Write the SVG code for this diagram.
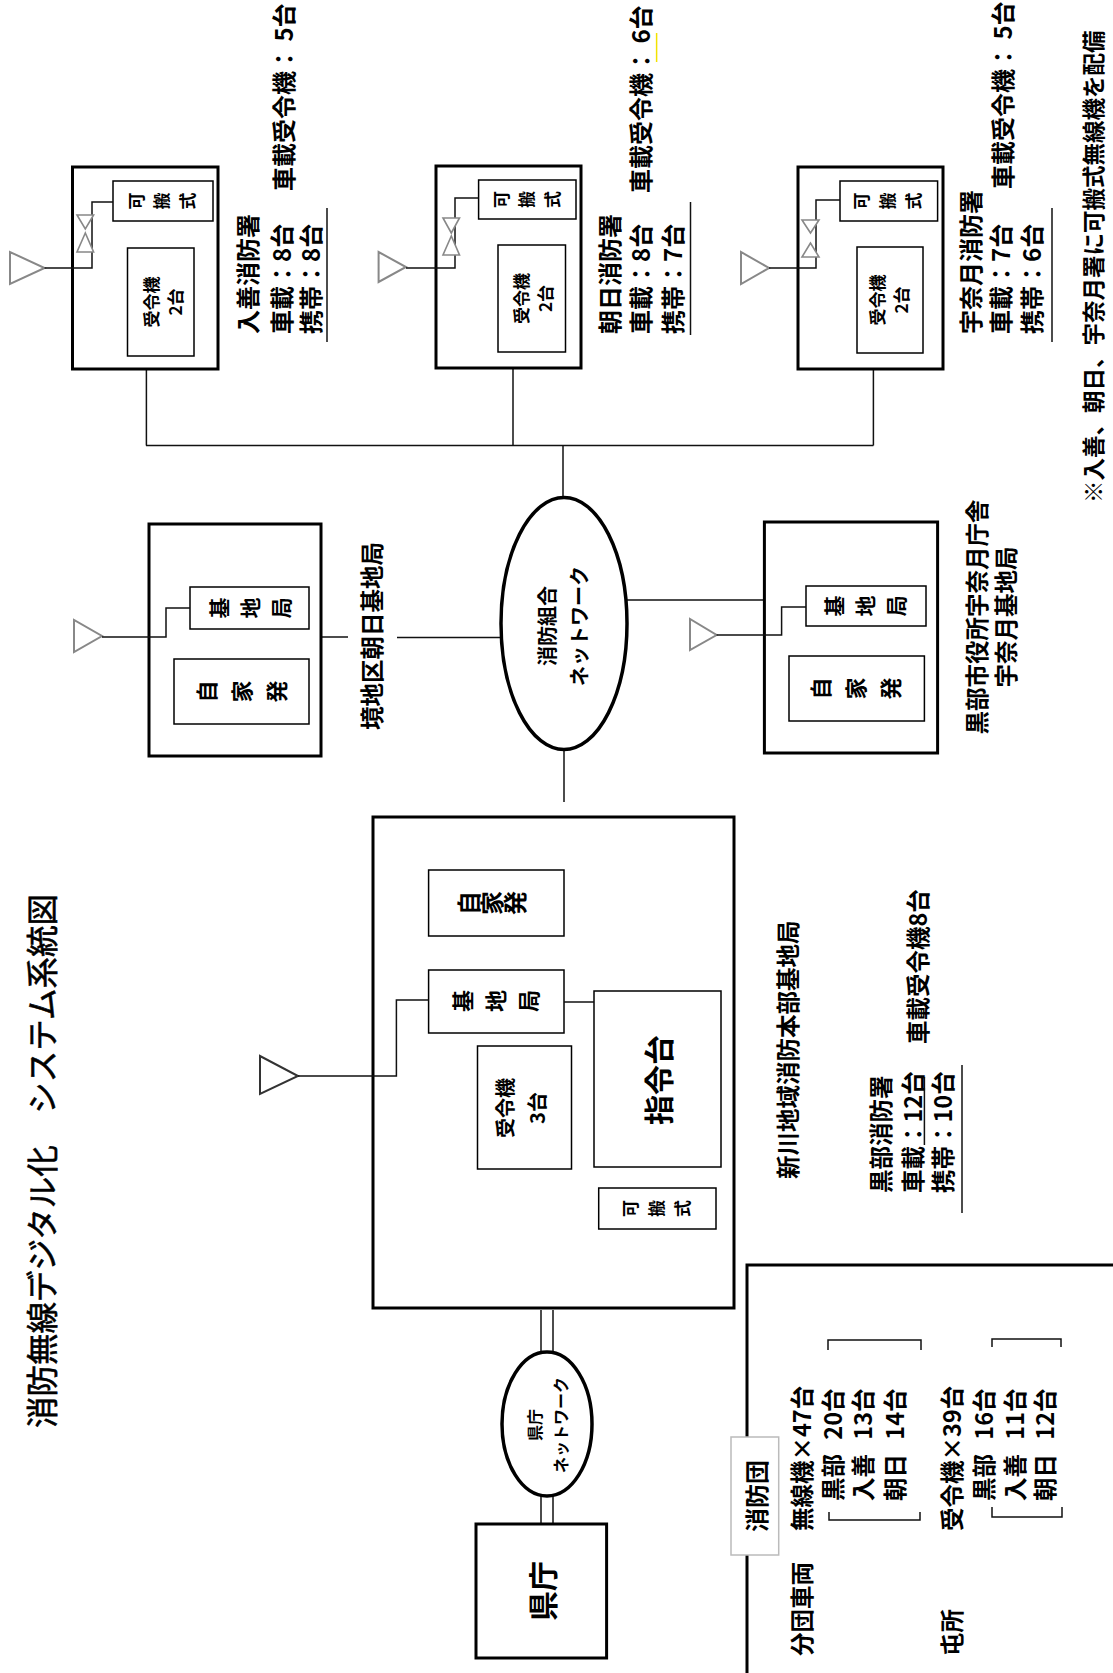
<svg xmlns="http://www.w3.org/2000/svg" width="1113" height="1673" viewBox="0 0 1113 1673">
<style>
.t{font-family:'Noto Sans CJK JP','Noto Sans CJK SC',sans-serif;font-weight:bold;fill:#000}
.c{dominant-baseline:central}
.m{text-anchor:middle}
.v{writing-mode:vertical-rl;text-anchor:middle}
.box{fill:#fff;stroke:#000;stroke-width:3}
.ib{fill:#fff;stroke:#000;stroke-width:1.5}
.ln{stroke:#111;stroke-width:1.5;fill:none}
.ant{fill:#fff;stroke:#888;stroke-width:2}
.sm{fill:#fff;stroke:#888;stroke-width:1.6}
.el{fill:#fff;stroke:#000;stroke-width:3.5}
</style>
<rect width="1113" height="1673" fill="#fff"/>

<g id="connectors">
<line class="ln" x1="146" y1="445.5" x2="873.4" y2="445.5"/>
<line class="ln" x1="146.4" y1="369" x2="146.4" y2="445.5"/>
<line class="ln" x1="513" y1="368" x2="513" y2="445.5"/>
<line class="ln" x1="873.4" y1="369" x2="873.4" y2="445.5"/>
<line class="ln" x1="563" y1="445.5" x2="563" y2="498"/>
<line class="ln" x1="321" y1="637" x2="348" y2="637"/>
<line class="ln" x1="397" y1="637.5" x2="502" y2="637.5"/>
<line class="ln" x1="626" y1="600" x2="764.4" y2="600"/>
<line class="ln" x1="564" y1="749" x2="564" y2="802"/>
<line class="ln" x1="541" y1="1310" x2="541" y2="1353"/>
<line class="ln" x1="553" y1="1310" x2="553" y2="1353"/>
<line class="ln" x1="541" y1="1495" x2="541" y2="1524"/>
<line class="ln" x1="553" y1="1495" x2="553" y2="1524"/>
</g>

<g id="title">
<text class="t c" font-size="31.5" style="font-weight:normal" stroke="#000" stroke-width="0.6" transform="translate(40,1428) rotate(-90)">消防無線デジタル化　システム系統図</text>
</g>

<g id="node-nyuzen">
<rect class="box" x="72.5" y="167" width="145.5" height="202"/>
<rect class="ib" x="113" y="181" width="100" height="40"/>
<rect class="ib" x="127.5" y="248" width="66.5" height="108"/>
<polygon class="ant" points="10,252 10,284 44.6,268"/>
<polyline class="ln" points="44.6,268 92,268 92,202 113,202"/>
<polygon class="sm" points="77,215 93.6,215 85.3,229"/>
<polygon class="sm" points="85.3,233 77,252 93.6,252"/>
<text class="t v" font-size="17" transform="translate(162,201) rotate(-90)" x="0" y="-25.7 0 25.7">可搬式</text>
<text class="t c m" font-size="17" transform="translate(162,302) rotate(-90)"><tspan x="0" y="-12">受令機</tspan><tspan x="0" y="12">2台</tspan></text>
<text class="t c" font-size="24" transform="translate(246,334) rotate(-90)">入善消防署</text>
<text class="t c" font-size="24" transform="translate(280,334) rotate(-90)">車載：8台</text>
<text class="t c" font-size="24" transform="translate(309,334) rotate(-90)">携帯：8台</text>
<text class="t c" font-size="24" transform="translate(282,191) rotate(-90)">車載受令機： 5台</text>
<line class="ln" x1="327" y1="208" x2="327" y2="342"/>
</g>

<g id="node-asahi">
<rect class="box" x="436" y="166" width="145" height="202"/>
<rect class="ib" x="478.6" y="180" width="97.4" height="39"/>
<rect class="ib" x="498" y="245" width="67.5" height="107"/>
<polygon class="ant" points="378.6,252 378.6,282 406,267"/>
<polyline class="ln" points="406,268 455,268 455,198 478.6,198"/>
<polygon class="sm" points="443,218 459.5,218 451.3,233"/>
<polygon class="sm" points="451.3,236 443,255 459.5,255"/>
<text class="t v" font-size="17" transform="translate(527,199.5) rotate(-90)" x="0" y="-25.7 0 25.7">可搬式</text>
<text class="t c m" font-size="17" transform="translate(532,298.5) rotate(-90)"><tspan x="0" y="-12">受令機</tspan><tspan x="0" y="12">2台</tspan></text>
<text class="t c" font-size="24" transform="translate(608,334) rotate(-90)">朝日消防署</text>
<text class="t c" font-size="24" transform="translate(639,334) rotate(-90)">車載：8台</text>
<text class="t c" font-size="24" transform="translate(671,334) rotate(-90)">携帯：7台</text>
<text class="t c" font-size="24" transform="translate(639,193) rotate(-90)">車載受令機： 6台</text>
<line class="ln" x1="690.5" y1="202" x2="690.5" y2="335"/>
<line x1="656.6" y1="33" x2="656.6" y2="62" stroke="#f2e200" stroke-width="1.5"/>
</g>

<g id="node-unazuki">
<rect class="box" x="798" y="167" width="145" height="202"/>
<rect class="ib" x="840" y="181" width="97.6" height="40"/>
<rect class="ib" x="857" y="247" width="66" height="106"/>
<polygon class="ant" points="741,252 741,284 769,268"/>
<polyline class="ln" points="769,268 816,268 816,200 840,200"/>
<polygon class="sm" points="802,220 819,220 810.5,233"/>
<polygon class="sm" points="810.5,243 802,257 819,257"/>
<text class="t v" font-size="17" transform="translate(888,201) rotate(-90)" x="0" y="-26 0 26">可搬式</text>
<text class="t c m" font-size="17" transform="translate(888,300) rotate(-90)"><tspan x="0" y="-12">受令機</tspan><tspan x="0" y="12">2台</tspan></text>
<text class="t c" font-size="24" transform="translate(969,334) rotate(-90)">宇奈月消防署</text>
<text class="t c" font-size="24" transform="translate(999.4,334) rotate(-90)">車載：7台</text>
<text class="t c" font-size="24" transform="translate(1030,334) rotate(-90)">携帯：6台</text>
<text class="t c" font-size="24" transform="translate(1001,189) rotate(-90)">車載受令機： 5台</text>
<line class="ln" x1="1052" y1="208" x2="1052" y2="342"/>
</g>

<g id="note">
<text class="t c" font-size="22.5" transform="translate(1092,503) rotate(-90)">※入善、朝日、宇奈月署に可搬式無線機を配備</text>
</g>

<g id="node-sakai">
<rect class="box" x="149" y="524" width="172" height="232"/>
<rect class="ib" x="190" y="587" width="119" height="42"/>
<rect class="ib" x="174" y="659" width="135" height="65"/>
<polygon class="ant" points="74,620 74,652 102,636"/>
<polyline class="ln" points="102,637 166,637 166,608 190,608"/>
<text class="t v" font-size="21" transform="translate(250,608) rotate(-90)" x="0" y="-31 0 31">基地局</text>
<text class="t v" font-size="22" transform="translate(242,691.5) rotate(-90)" x="0" y="-35 0 35">自家発</text>
<text class="t c m" font-size="23.5" transform="translate(371,636) rotate(-90)">境地区朝日基地局</text>
</g>

<g id="node-net">
<ellipse class="el" cx="564" cy="623.5" rx="63" ry="126"/>
<text class="t c m" font-size="20" transform="translate(562,626) rotate(-90)"><tspan x="0" y="-16">消防組合</tspan><tspan x="0" y="16">ネットワーク</tspan></text>
</g>

<g id="node-unazuki-base">
<rect class="box" x="764.4" y="522" width="173.2" height="231"/>
<rect class="ib" x="806" y="586" width="120" height="40"/>
<rect class="ib" x="789" y="656" width="135.4" height="65"/>
<polygon class="ant" points="690,619 690,650 716.6,635"/>
<polyline class="ln" points="716.6,635 781.6,635 781.6,607 806,607"/>
<text class="t v" font-size="21" transform="translate(865,606) rotate(-90)" x="0" y="-31 0 31">基地局</text>
<text class="t v" font-size="22" transform="translate(856,688.5) rotate(-90)" x="0" y="-35 0 35">自家発</text>
<text class="t c m" font-size="23.5" transform="translate(990.5,617) rotate(-90)"><tspan x="0" y="-14.5">黒部市役所宇奈月庁舎</tspan><tspan x="0" y="14.5">宇奈月基地局</tspan></text>
</g>

<g id="node-main">
<rect class="box" x="373" y="817" width="361" height="491"/>
<rect class="ib" x="428.6" y="870" width="135.4" height="66"/>
<rect class="ib" x="428.6" y="970" width="135.4" height="63"/>
<rect class="ib" x="477.5" y="1046" width="94" height="123"/>
<rect class="ib" x="594" y="991" width="127" height="176"/>
<rect class="ib" x="598.7" y="1188" width="117.3" height="41"/>
<line class="ln" x1="564" y1="1002" x2="594" y2="1002"/>
<polygon points="260,1056 260,1094 298,1076" fill="#fff" stroke="#333" stroke-width="2"/>
<polyline class="ln" points="298,1076 396.4,1076 396.4,1000 428.6,1000"/>
<text class="t v" font-size="24" transform="translate(492,903) rotate(-90)" x="0" y="-23 0 23">自家発</text>
<text class="t v" font-size="22" transform="translate(496,1001) rotate(-90)" x="0" y="-33 0 33">基地局</text>
<text class="t c m" font-size="20" transform="translate(520,1108) rotate(-90)"><tspan x="0" y="-16">受令機</tspan><tspan x="0" y="16">3台</tspan></text>
<text class="t c m" font-size="30" transform="translate(657,1080) rotate(-90)">指令台</text>
<text class="t v" font-size="17" transform="translate(657,1208.5) rotate(-90)" x="0" y="-26 0 26">可搬式</text>
<text class="t c" font-size="23.5" transform="translate(787,1179) rotate(-90)">新川地域消防本部基地局</text>
<text class="t c" font-size="23.5" transform="translate(880,1193) rotate(-90)">黒部消防署</text>
<text class="t c" font-size="23.5" transform="translate(912,1193) rotate(-90)">車載：12台</text>
<text class="t c" font-size="23.5" transform="translate(942,1193) rotate(-90)">携帯：10台</text>
<text class="t c" font-size="23.5" transform="translate(917,1044) rotate(-90)">車載受令機8台</text>
<line class="ln" x1="924.4" y1="1077" x2="924.4" y2="1145"/>
<line class="ln" x1="962" y1="1065" x2="962" y2="1213"/>
</g>

<g id="node-kencho-net">
<ellipse class="el" cx="547" cy="1424" rx="45" ry="72"/>
<text class="t c m" font-size="16" transform="translate(547,1425) rotate(-90)"><tspan x="0" y="-13">県庁</tspan><tspan x="0" y="13">ネットワーク</tspan></text>
</g>

<g id="node-kencho">
<rect class="box" x="476" y="1524" width="130.6" height="134"/>
<text class="t c m" font-size="30" transform="translate(541,1591) rotate(-90)">県庁</text>
</g>

<g id="legend">
<rect class="box" x="747" y="1265" width="400" height="450"/>
<rect x="731" y="1437" width="47.7" height="118" fill="#fff" stroke="#bbb" stroke-width="1.5"/>
<text class="t c m" font-size="24" transform="translate(755,1496) rotate(-90)">消防団</text>
<text class="t c" font-size="23.5" transform="translate(801,1656) rotate(-90)">分団車両</text>
<text class="t c" font-size="23.5" transform="translate(801,1531) rotate(-90)">無線機×47台</text>
<text class="t c" font-size="23.5" word-spacing="9" transform="translate(832,1501) rotate(-90)">黒部 20台</text>
<text class="t c" font-size="23.5" word-spacing="9" transform="translate(862,1501) rotate(-90)">入善 13台</text>
<text class="t c" font-size="23.5" word-spacing="9" transform="translate(894,1501) rotate(-90)">朝日 14台</text>
<polyline class="ln" points="828,1350 828,1340 921,1340 921,1350"/>
<polyline class="ln" points="829,1512 829,1520 920,1520 920,1512"/>
<text class="t c" font-size="23.5" transform="translate(951,1656) rotate(-90)">屯所</text>
<text class="t c" font-size="23.5" transform="translate(951,1531) rotate(-90)">受令機×39台</text>
<text class="t c" font-size="23.5" word-spacing="9" transform="translate(983,1501) rotate(-90)">黒部 16台</text>
<text class="t c" font-size="23.5" word-spacing="9" transform="translate(1014,1501) rotate(-90)">入善 11台</text>
<text class="t c" font-size="23.5" word-spacing="9" transform="translate(1044,1501) rotate(-90)">朝日 12台</text>
<polyline class="ln" points="992,1347 992,1339 1061,1339 1061,1347"/>
<polyline class="ln" points="992,1507 992,1517 1062,1517 1062,1507"/>
</g>
</svg>
